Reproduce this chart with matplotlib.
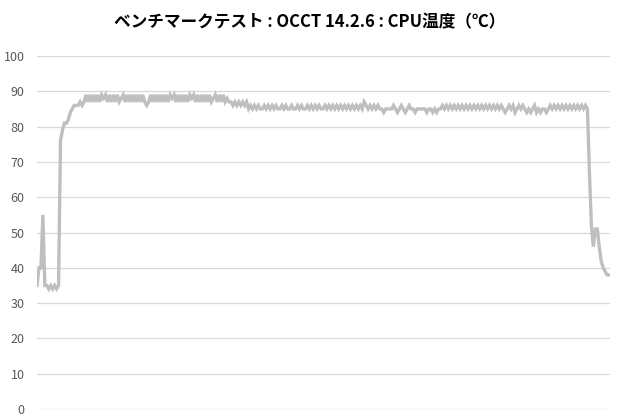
import numpy as np
import matplotlib
matplotlib.use("Agg")
import matplotlib.pyplot as plt

plt.rcParams["font.family"] = ["Noto Sans CJK JP", "DejaVu Sans"]

TITLE = "ベンチマークテスト : OCCT 14.2.6 : CPU温度（℃）"

# CPU temperature samples (°C) left to right
idle_start = [35, 40, 40, 55, 35, 35, 34, 35, 34, 35, 34, 35]
ramp_up = [76, 79, 81, 81, 82, 84, 85, 86, 86, 86, 87, 86, 87, 89, 87]
hot_band_1 = [89, 87, 89, 87, 89, 87, 89, 88, 89, 87, 89, 87, 89, 87,
              89, 87, 88, 89, 87, 89, 87, 89, 87, 89, 87, 89, 87, 89]
dip = [87, 86, 87]
hot_band_2 = [89, 87, 89, 87, 89, 87, 89, 87, 89, 87, 89, 88, 89, 87,
              89, 87, 89, 87, 89, 87, 89, 88, 89, 87, 89, 87, 89, 87,
              89, 87, 89, 87, 88, 89, 87, 89, 87, 89, 87, 88, 87]
settle = [87, 86, 87, 86, 87, 86, 87, 86, 87, 85, 86]
plateau = [85, 86, 85, 86, 85, 85, 86, 85, 86, 85, 86, 85, 86, 85, 85,
           86, 85, 86, 85, 85, 86, 85, 85, 86, 85, 86, 85, 85, 86, 85,
           86, 85, 86, 85, 86, 85, 85, 86, 85, 86, 85, 86, 85, 86, 85,
           86, 85, 86, 85, 86, 85, 86, 85, 86, 85, 86, 85, 87, 86, 85,
           86, 85, 86, 85, 86, 85, 85, 84, 85, 85, 85, 85, 86, 85, 84,
           85, 86, 85, 84, 85, 86, 85, 85, 84, 85, 85, 85, 85, 85, 84,
           85, 85, 84, 85, 84, 85, 85, 86, 85, 86, 85, 86, 85, 86, 85,
           86, 85, 86, 85, 86, 85, 86, 85, 86, 85, 86, 85, 86, 85, 86,
           85, 86, 85, 86, 85, 86, 85, 86, 85, 84, 85, 86,
           85, 86, 84, 85, 86, 85, 86, 85, 84, 85, 84, 85, 86, 84, 85,
           84, 85, 85, 84, 85, 86, 85, 86, 85, 86, 85, 86, 85, 86, 85,
           86, 85, 86, 85, 86, 85, 86, 85, 86, 85]
cool_down = [67, 52, 46, 51, 51, 46, 42, 40, 39, 38, 38]

temps = (idle_start + ramp_up + hot_band_1 + dip + hot_band_2 + settle
         + plateau + cool_down)

y_ticks = list(range(0, 101, 10))

fig = plt.figure(figsize=(6.2, 4.2), dpi=100)
ax = fig.add_axes([37 / 620, 1 - 409 / 420, (610 - 37) / 620, (409 - 56) / 420])

x = np.arange(len(temps))
ax.plot(x, temps, color="#BFBFBF", linewidth=2.4, solid_joinstyle="miter", zorder=3)

ax.set_xlim(0, len(temps) - 0.5)
ax.set_ylim(0, 100)
ax.set_yticks(y_ticks)
ax.set_xticks([])
ax.grid(axis="y", color="#D9D9D9", linewidth=0.9)
ax.set_axisbelow(True)
for s in ax.spines.values():
    s.set_visible(False)
ax.tick_params(axis="y", length=0, pad=9, labelsize=9, labelcolor="#595959")

fig.text(0.5, 1 - 22 / 420, TITLE, ha="center", va="center",
         fontsize=12, fontweight="bold", color="#000000")

fig.savefig("out.png", dpi=100, facecolor="white")
